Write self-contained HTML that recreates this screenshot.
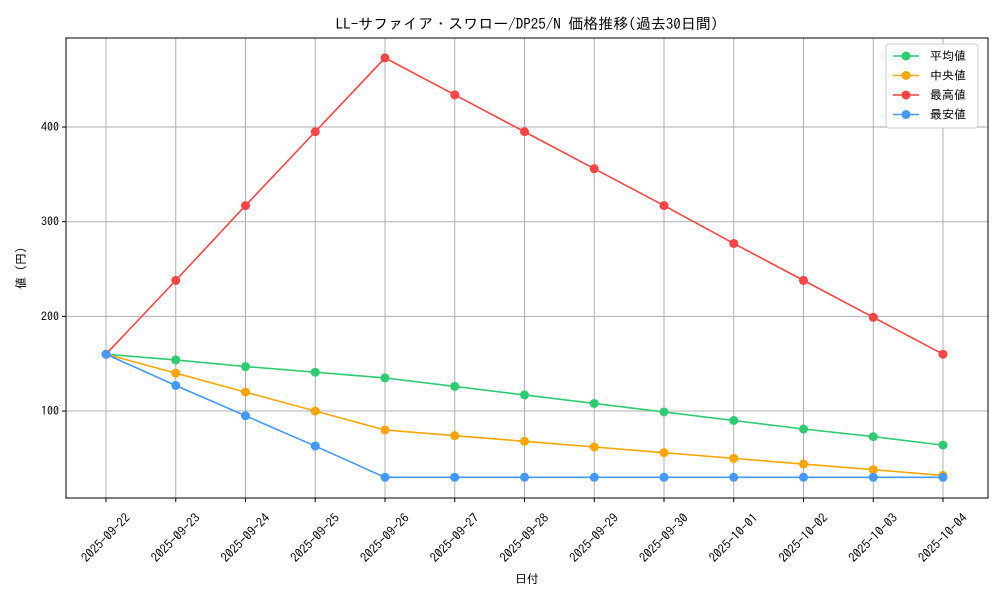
<!DOCTYPE html>
<html><head><meta charset="utf-8"><style>
body{margin:0;background:#fff;}
svg{display:block;font-family:"IPAGothic","Noto Sans CJK JP",sans-serif;}
</style></head><body>
<svg id="chart" width="1000" height="600"></svg>
<script>
const categories=["2025-09-22","2025-09-23","2025-09-24","2025-09-25","2025-09-26","2025-09-27","2025-09-28","2025-09-29","2025-09-30","2025-10-01","2025-10-02","2025-10-03","2025-10-04"];
const avgValues=[160,154,147,141,135,126,117,108,99,90,81,73,64];
const medianValues=[160,140,120,100,80,74,68,62,56,50,44,38,32];
const maxValues=[160,238,317,395,473,434,395,356,317,277,238,199,160];
const minValues=[160,127,95,63,30,30,30,30,30,30,30,30,30];
const yTicks=[100,200,300,400];
const seriesNames=["平均値","中央値","最高値","最安値"];
const NS="http://www.w3.org/2000/svg";
const svg=document.getElementById("chart");
const L=66,R=988,T=38,B=498;
const x=i=>106+i*(943-106)/(categories.length-1);
const y=v=>505.7-v*0.9467;
function el(t,a,p){const e=document.createElementNS(NS,t);for(const k in a)e.setAttribute(k,a[k]);(p||svg).appendChild(e);return e;}
const grid=el("g",{});


categories.forEach((c,i)=>{
 el("line",{x1:x(i),x2:x(i),y1:T,y2:B,stroke:"#b0b0b0","stroke-width":1},grid);
 el("line",{x1:x(i),x2:x(i),y1:B,y2:B+4,stroke:"#000"});
 const t=el("text",{x:0,y:4,"font-size":12.5,"text-anchor":"middle",transform:`translate(${x(i)},${B+40}) rotate(-45)`});
 t.textContent=c;
 
 
});
yTicks.forEach(v=>{
 el("line",{x1:L,x2:R,y1:y(v),y2:y(v),stroke:"#b0b0b0","stroke-width":1},grid);
 el("line",{x1:L-4,x2:L,y1:y(v),y2:y(v),stroke:"#000"});
 const t=el("text",{x:L-7,y:y(v)+4,"font-size":12,"text-anchor":"end"});
 t.textContent=v;
 
 
});
const frame=el("rect",{x:L,y:T,width:R-L,height:B-T,fill:"none",stroke:"#000","stroke-width":1});


const series=[[avgValues,"#2ecc71"],[medianValues,"#ffa500"],[maxValues,"#ff4444"],[minValues,"#4499ff"]];
const names=["average-line","median-line","max-line","min-line"];
series.forEach(([vals,col],s)=>{
 const g=el("g",{});
 
 
 el("polyline",{points:vals.map((v,i)=>x(i)+","+y(v)).join(" "),fill:"none",stroke:col,"stroke-width":1.6},g);
 vals.forEach((v,i)=>{const c=el("circle",{cx:x(i),cy:y(v),r:4.5,fill:col},g);
  
  });
});
const title=el("text",{x:527,y:29,"font-size":15,"text-anchor":"middle"});
title.textContent="LL-サファイア・スワロー/DP25/N 価格推移(過去30日間)";


const xt=el("text",{x:527,y:583,"font-size":12,"text-anchor":"middle"});
xt.textContent="日付";


const yt=el("text",{x:0,y:0,"font-size":12,"text-anchor":"middle",transform:"translate(25,268) rotate(-90)"});
yt.textContent="値 (円)";


const lg=el("g",{});


el("rect",{x:886,y:44,width:92,height:84,rx:3,fill:"#fff",stroke:"#ccc"},lg);
series.forEach(([v,col],s)=>{
 const yy=56+s*19.5;
 el("line",{x1:893,x2:919,y1:yy,y2:yy,stroke:col,"stroke-width":1.6},lg);
 el("circle",{cx:906,cy:yy,r:4.5,fill:col},lg);
 const t=el("text",{x:930,y:yy+4,"font-size":12},lg);
 t.textContent=seriesNames[s];
 
 
});
</script>
</body></html>
